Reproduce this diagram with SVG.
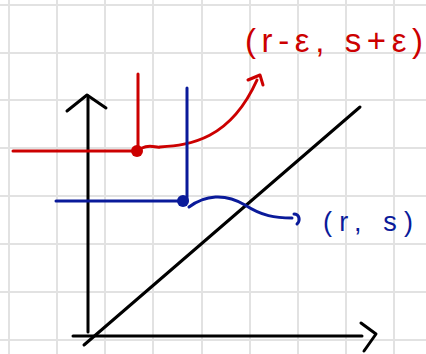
<svg xmlns="http://www.w3.org/2000/svg" width="426" height="354" viewBox="0 0 426 354">
<style>
.grid{stroke:#e2e2e2;stroke-width:2;fill:none}
.ink{fill:none;stroke-width:3;stroke-linecap:round;stroke-linejoin:round}
.k{stroke:#000}
.r{stroke:#cc0000}
.b{stroke:#0a1a9a}
.lbl{font-family:"Liberation Sans",Arial,sans-serif}
</style>
<rect width="426" height="354" fill="#fff"/>
<g id="grid" class="grid">
<path d="M9 0V354M57 0V354M105 0V354M153 0V354M202 0V354M250 0V354M298 0V354M346 0V354M394 0V354"/>
<path d="M0 5H426M0 53H426M0 100H426M0 148H426M0 196H426M0 244H426M0 292H426M0 340H426"/>
</g>
<g id="axes" class="ink k">
<path d="M88 96V332"/>
<path d="M67 111L87 95L106 108"/>
<path d="M73 336H362"/>
<path d="M361 323L376 334L364 351"/>
<path d="M84 345L360 107"/>
</g>
<g id="red-point">
<path class="ink r" d="M13 151H136M138 74V151"/>
<circle cx="137" cy="151" r="6" fill="#cc0000"/>
<path class="ink r" d="M142 148C150 144 156 148 160 147C190 145 230 140 257 80"/>
<path class="ink r" d="M248 80L260 75L263 85"/>
<text class="lbl" x="245" y="52" font-size="33" fill="#cc0000" textLength="178" lengthAdjust="spacing">(r-ε, s+ε)</text>
</g>
<g id="blue-point">
<path class="ink b" d="M56 201H182M187 88V201"/>
<circle cx="183" cy="201" r="6" fill="#0a1a9a"/>
<path class="ink b" d="M189 207C205 195 225 193 245 205C262 216 275 218 292 218"/>
<path class="ink b" d="M294 214C299 214 301 220 297 224"/>
<text class="lbl" x="323" y="231" font-size="27" fill="#0a1a9a" textLength="90" lengthAdjust="spacing">(r, s)</text>
</g>
</svg>
